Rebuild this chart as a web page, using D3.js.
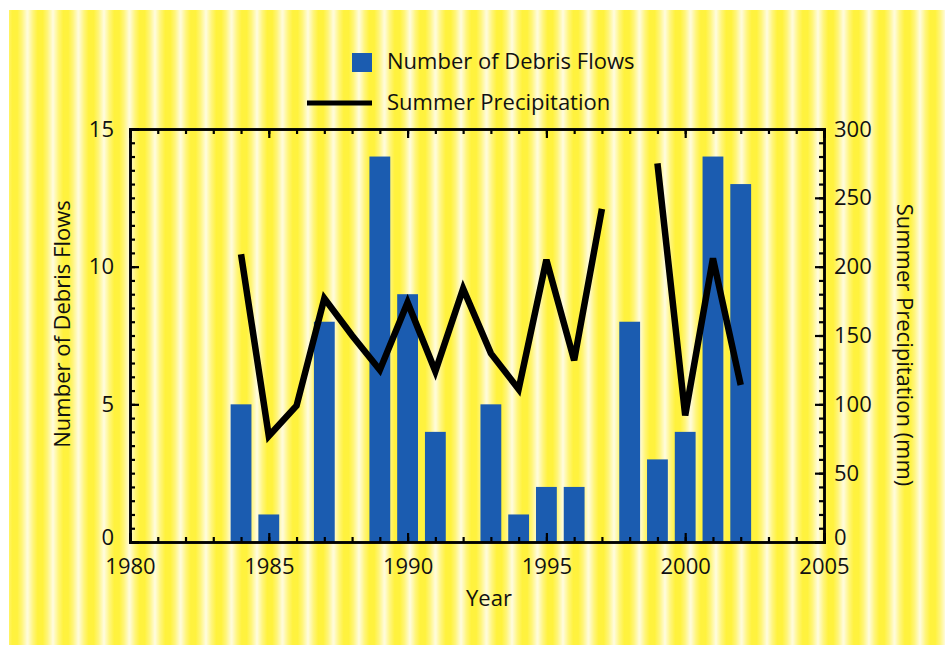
<!DOCTYPE html>
<html>
<head>
<meta charset="utf-8">
<script src="https://cdn.jsdelivr.net/npm/d3@7"></script>
<style>
  body { margin: 0; background: #fff; }
  svg text { font-family: "Open Sans", "Noto Sans", sans-serif; fill: #111; }
</style>
</head>
<body>
<svg id="chart"></svg>
<script>
// debris flows per year (bars, left axis)
const flowYears = [1984, 1985, 1987, 1989, 1990, 1991, 1993, 1994, 1995, 1996, 1998, 1999, 2000, 2001, 2002];
const flowCounts = [5, 1, 8, 14, 9, 4, 5, 1, 2, 2, 8, 3, 4, 14, 13];

// summer precipitation in mm (line, right axis), null = no record
const precipYears = [1984, 1985, 1986, 1987, 1988, 1989, 1990, 1991, 1992, 1993, 1994, 1995, 1996, 1997, 1998, 1999, 2000, 2001, 2002];
const precipMm = [209, 77, 99, 177, 150, 125, 174, 124, 184, 137, 111, 205, 132, 242, null, 275, 92, 206, 114];

const xTicks = [1980, 1985, 1990, 1995, 2000, 2005];
const leftTicks = [0, 5, 10, 15];
const rightTicks = [0, 50, 100, 150, 200, 250, 300];

const W = 945, H = 645;
const margin = {top: 129, right: 121, bottom: 103, left: 130};
const innerW = W - margin.left - margin.right;
const innerH = H - margin.top - margin.bottom;
const barBlue = '#1b5cb0';
const fontSize = 22;

const svg = d3.select('#chart').attr('width', W).attr('height', H);

// striped yellow backdrop
const defs = svg.append('defs');
const grad = defs.append('linearGradient').attr('id', 'stripe');
[['0%', '#fffce0'], ['22%', '#fff57a'], ['40%', '#fff23e'], ['60%', '#fff23e'], ['78%', '#fff57a'], ['100%', '#fffce0']]
  .forEach(s => grad.append('stop').attr('offset', s[0]).attr('stop-color', s[1]));
const pat = defs.append('pattern').attr('id', 'stripes')
    .attr('patternUnits', 'userSpaceOnUse')
    .attr('width', 25.5).attr('height', 10).attr('x', 2);
pat.append('rect').attr('width', 25.5).attr('height', 10).attr('fill', 'url(#stripe)');

svg.append('rect')
    .attr('x', 9).attr('y', 10)
    .attr('width', W - 9).attr('height', H - 10)
    .attr('fill', 'url(#stripes)');

const chart = svg.append('g')
    .attr('transform', `translate(${margin.left},${margin.top})`);

// scales
const x = d3.scaleLinear().domain([1980, 2005]).range([0, innerW]);
const yL = d3.scaleLinear().domain([0, 15]).range([innerH, 0]);
const yR = d3.scaleLinear().domain([0, 300]).range([innerH, 0]);

// bars
const barW = x(1980.75) - x(1980);
chart.selectAll('.bar')
    .data(flowYears.map((yr, i) => ({year: yr, n: flowCounts[i]})))
    .join('rect')
    .attr('class', 'bar')
    .attr('x', d => x(d.year) - barW / 2)
    .attr('y', d => yL(d.n))
    .attr('width', barW)
    .attr('height', d => innerH - yL(d.n))
    .attr('fill', barBlue);

// precipitation line
const precip = precipYears.map((yr, i) => ({year: yr, v: precipMm[i]}));
const line = d3.line()
    .defined(d => d.v !== null)
    .x(d => x(d.year))
    .y(d => yR(d.v));
chart.append('path')
    .datum(precip)
    .attr('d', line)
    .attr('fill', 'none')
    .attr('stroke', '#000')
    .attr('stroke-width', 6.5)
    .attr('stroke-linejoin', 'miter');

// axes: minor ticks then major ticks, all pointing inward
function styleAxis(g) {
  g.select('.domain').attr('stroke', '#000').attr('stroke-width', 2.5);
  g.selectAll('.tick line').attr('stroke', '#000').attr('stroke-width', 2.2);
  g.selectAll('text').attr('font-size', fontSize).attr('font-family', '"Open Sans", sans-serif').attr('fill', '#111');
}

const yearMinor = d3.range(1980, 2006);
chart.append('g').attr('transform', `translate(0,${innerH})`)
    .call(d3.axisBottom(x).tickValues(yearMinor).tickSize(-5).tickFormat(''))
    .call(styleAxis);
chart.append('g').attr('transform', `translate(0,${innerH})`)
    .call(d3.axisBottom(x).tickValues(xTicks).tickSize(-9).tickPadding(16).tickFormat(d3.format('d')))
    .call(styleAxis);

chart.append('g')
    .call(d3.axisTop(x).tickValues(yearMinor).tickSize(-5).tickFormat(''))
    .call(styleAxis);
chart.append('g')
    .call(d3.axisTop(x).tickValues(xTicks).tickSize(-9).tickFormat(''))
    .call(styleAxis);

chart.append('g')
    .call(d3.axisLeft(yL).tickValues(d3.range(0, 15.01, 0.5)).tickSize(-5).tickFormat(''))
    .call(styleAxis);
chart.append('g')
    .call(d3.axisLeft(yL).tickValues(leftTicks).tickSize(-9).tickPadding(16))
    .call(styleAxis)
    .call(g => g.selectAll('text').filter(d => d === 0).attr('dy', '0.1em'));

chart.append('g').attr('transform', `translate(${innerW},0)`)
    .call(d3.axisRight(yR).tickValues(d3.range(0, 301, 10)).tickSize(-5).tickFormat(''))
    .call(styleAxis);
chart.append('g').attr('transform', `translate(${innerW},0)`)
    .call(d3.axisRight(yR).tickValues(rightTicks).tickSize(-9).tickPadding(10))
    .call(styleAxis)
    .call(g => g.selectAll('text').filter(d => d === 0).attr('dy', '0.1em'));

// axis titles
svg.append('text')
    .attr('transform', 'translate(70,324) rotate(-90)')
    .attr('text-anchor', 'middle')
    .attr('font-size', fontSize)
    .text('Number of Debris Flows');

svg.append('text')
    .attr('transform', 'translate(897,345) rotate(90)')
    .attr('text-anchor', 'middle')
    .attr('font-size', fontSize)
    .text('Summer Precipitation (mm)');

svg.append('text')
    .attr('x', 489)
    .attr('y', 606)
    .attr('text-anchor', 'middle')
    .attr('font-size', fontSize)
    .text('Year');

// legend
const legend = svg.append('g');
legend.append('rect')
    .attr('x', 352).attr('y', 53).attr('width', 20).attr('height', 19)
    .attr('fill', barBlue);
legend.append('text').attr('x', 387).attr('y', 69).attr('font-size', fontSize).text('Number of Debris Flows');
legend.append('line')
    .attr('x1', 307).attr('x2', 372).attr('y1', 103).attr('y2', 103)
    .attr('stroke', '#000').attr('stroke-width', 5);
legend.append('text').attr('x', 387).attr('y', 110).attr('font-size', fontSize).text('Summer Precipitation');
</script>
</body>
</html>
